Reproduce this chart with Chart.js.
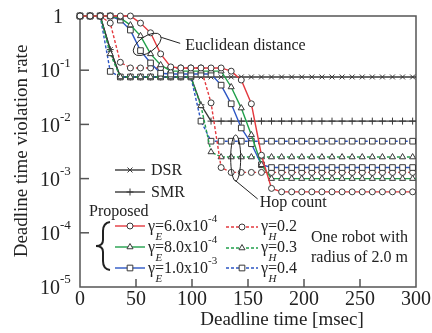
<!DOCTYPE html>
<html>
<head>
<meta charset="utf-8">
<script src="https://cdn.jsdelivr.net/npm/chart.js@4.4.1/dist/chart.umd.min.js"></script>
<style>
  html, body { margin: 0; padding: 0; background: #fff; }
  canvas { display: block; }
</style>
</head>
<body>
<canvas id="rateChart" width="432" height="333"></canvas>
<script>
// deadline time [msec] of each sample (last one sits past the axis end, it only carries the line to the frame)
const times = [0, 9, 18, 27, 36, 45, 54, 63, 72, 81, 90, 99, 108, 117, 126, 135, 144, 153, 162, 171,
  180, 189, 198, 207, 216, 225, 234, 243, 252, 261, 270, 279, 288, 297, 306];

// deadline time violation rate
const dsr = [1, 1, 1, 0.24, 0.075, 0.075, 0.075, 0.075, 0.075, 0.075, 0.075, 0.075, 0.075, 0.075, 0.075,
  0.075, 0.075, 0.075, 0.075, 0.075, 0.075, 0.075, 0.075, 0.075, 0.075, 0.075, 0.075, 0.075, 0.075, 0.075,
  0.075, 0.075, 0.075, 0.075, 0.075];
const smr = [1, 1, 1, 0.24, 0.075, 0.075, 0.075, 0.075, 0.075, 0.075, 0.075, 0.075, 0.023, 0.0115, 0.0115,
  0.0115, 0.0115, 0.0115, 0.0115, 0.0115, 0.0115, 0.0115, 0.0115, 0.0115, 0.0115, 0.0115, 0.0115, 0.0115,
  0.0115, 0.0115, 0.0115, 0.0115, 0.0115, 0.0115, 0.0115];
// Proposed, Euclidean distance
const eucl6 = [1, 1, 1, 1, 1, 1, 0.74, 0.49, 0.2, 0.115, 0.11, 0.11, 0.11, 0.11, 0.11, 0.096, 0.066, 0.024,
  0.0027, 0.00066, 0.00057, 0.00057, 0.00057, 0.00057, 0.00057, 0.00057, 0.00057, 0.00057, 0.00057, 0.00057,
  0.00057, 0.00057, 0.00057, 0.00057, 0.00057];
const eucl8 = [1, 1, 1, 1, 0.92, 0.68, 0.43, 0.2, 0.125, 0.096, 0.096, 0.096, 0.096, 0.096, 0.096, 0.049,
  0.02, 0.0064, 0.0018, 0.001, 0.001, 0.001, 0.001, 0.001, 0.001, 0.001, 0.001, 0.001, 0.001, 0.001, 0.001,
  0.001, 0.001, 0.001, 0.001];
const eucl10 = [1, 1, 1, 1, 0.84, 0.55, 0.23, 0.136, 0.088, 0.085, 0.085, 0.085, 0.085, 0.085, 0.053, 0.024,
  0.0086, 0.0044, 0.0018, 0.0016, 0.0016, 0.0016, 0.0016, 0.0016, 0.0016, 0.0016, 0.0016, 0.0016, 0.0016,
  0.0016, 0.0016, 0.0016, 0.0016, 0.0016, 0.0016];
// Proposed, hop count
const hop02 = [1, 1, 1, 0.74, 0.14, 0.11, 0.11, 0.11, 0.11, 0.11, 0.11, 0.11, 0.11, 0.025, 0.0016, 0.0013,
  0.0013, 0.0013, 0.0013, 0.0013, 0.0013, 0.0013, 0.0013, 0.0013, 0.0013, 0.0013, 0.0013, 0.0013, 0.0013,
  0.0013, 0.0013, 0.0013, 0.0013, 0.0013, 0.0013];
const hop03 = [1, 1, 1, 0.2, 0.075, 0.075, 0.075, 0.075, 0.075, 0.075, 0.075, 0.075, 0.022, 0.0031, 0.0025,
  0.0025, 0.0025, 0.0025, 0.0025, 0.0025, 0.0025, 0.0025, 0.0025, 0.0025, 0.0025, 0.0025, 0.0025, 0.0025,
  0.0025, 0.0025, 0.0025, 0.0025, 0.0025, 0.0025, 0.0025];
const hop04 = [1, 1, 1, 0.095, 0.075, 0.075, 0.075, 0.075, 0.075, 0.075, 0.075, 0.075, 0.0115, 0.0049, 0.0049,
  0.0049, 0.0049, 0.0049, 0.0049, 0.0049, 0.0049, 0.0049, 0.0049, 0.0049, 0.0049, 0.0049, 0.0049, 0.0049,
  0.0049, 0.0049, 0.0049, 0.0049, 0.0049, 0.0049, 0.0049];

const xTicks = [0, 50, 100, 150, 200, 250, 300];
const yTicks = [1, 0.1, 0.01, 0.001, 0.0001, 0.00001];
const yExps = ['', '-1', '-2', '-3', '-4', '-5'];

const red = '#e4393e', green = '#21a04b', blue = '#2c56c4', ink = '#383838';
const serif = '"Liberation Serif", "DejaVu Serif", serif';

function series(name, vals, color, dash, style, r, order) {
  return {
    label: name,
    data: times.map((t, i) => ({ x: t, y: vals[i] })),
    borderColor: color,
    borderWidth: 1.4,
    borderDash: dash,
    pointStyle: style,
    pointRadius: r,
    pointBorderColor: ink,
    pointBackgroundColor: '#fff',
    pointBorderWidth: 1,
    tension: 0,
    order: order,
    clip: { left: 6, top: 6, right: 0, bottom: 6 }
  };
}

// higher order is painted first, so DSR/SMR sit under the proposed curves
const datasets = [
  series('DSR', dsr, ink, [], 'crossRot', 3.5, 3),
  series('SMR', smr, ink, [], 'cross', 3.5, 3),
  series('E6', eucl6, red, [], 'circle', 3, 1),
  series('E8', eucl8, green, [], 'triangle', 3.5, 1),
  series('E10', eucl10, blue, [], 'rect', 4, 1),
  series('H02', hop02, red, [3, 2], 'circle', 3, 2),
  series('H03', hop03, green, [3, 2], 'triangle', 3.5, 2),
  series('H04', hop04, blue, [3, 2], 'rect', 4, 2)
];

function marker(ctx, ds, x, y) {
  ctx.save();
  ctx.setLineDash([]);
  ctx.fillStyle = '#fff';
  ctx.strokeStyle = ink;
  ctx.lineWidth = 1;
  Chart.helpers.drawPoint(ctx, { pointStyle: ds.pointStyle, radius: ds.pointRadius, rotation: 0, borderWidth: 1 }, x, y);
  ctx.restore();
}

function legendLine(ctx, ds, x1, x2, y) {
  ctx.save();
  ctx.strokeStyle = ds.borderColor;
  ctx.lineWidth = 1.4;
  ctx.setLineDash(ds.borderDash);
  ctx.beginPath();
  ctx.moveTo(x1, y);
  ctx.lineTo(x2, y);
  ctx.stroke();
  ctx.restore();
  marker(ctx, ds, (x1 + x2) / 2, y);
}

function gammaLabel(ctx, x, y, sub, val, exp) {
  ctx.font = '16px ' + serif;
  ctx.textAlign = 'left';
  ctx.textBaseline = 'middle';
  ctx.fillText('γ', x, y);
  const gw = ctx.measureText('γ').width;
  ctx.fillText('=' + val, x + gw, y);
  const vw = ctx.measureText('=' + val).width;
  ctx.font = 'italic 11px ' + serif;
  ctx.fillText(sub, x + gw + 0.5, y + 10);
  if (exp) {
    ctx.font = '11px ' + serif;
    ctx.fillText(exp, x + gw + vw, y - 8);
  }
}

const decor = {
  id: 'decor',
  beforeDatasetsDraw(chart) {
    const { ctx, chartArea: a } = chart;
    ctx.save();
    ctx.strokeStyle = '#555';
    ctx.lineWidth = 1.5;
    ctx.strokeRect(a.left, a.top, a.right - a.left, a.bottom - a.top);
    ctx.restore();
  },
  afterDraw(chart) {
    const { ctx, chartArea: a } = chart;
    const xs = chart.scales.x, ys = chart.scales.y;
    ctx.save();
    ctx.strokeStyle = '#555';
    ctx.lineWidth = 1.5;
    // inward tick marks
    xTicks.slice(1, -1).forEach(v => {
      const px = xs.getPixelForValue(v);
      ctx.beginPath(); ctx.moveTo(px, a.bottom); ctx.lineTo(px, a.bottom - 8); ctx.stroke();
    });
    yTicks.slice(1, -1).forEach(v => {
      const py = ys.getPixelForValue(v);
      ctx.beginPath(); ctx.moveTo(a.left, py); ctx.lineTo(a.left + 9, py); ctx.stroke();
    });

    ctx.fillStyle = '#222';
    ctx.textBaseline = 'middle';
    ctx.font = '20px ' + serif;
    ctx.textAlign = 'center';
    xTicks.forEach(v => ctx.fillText(String(v), xs.getPixelForValue(v), a.bottom + 13));
    yTicks.forEach((v, i) => {
      const py = ys.getPixelForValue(v);
      ctx.font = '20px ' + serif;
      ctx.textAlign = 'right';
      if (!yExps[i]) { ctx.fillText('1', a.left - 17, py + 2); return; }
      ctx.fillText('10', a.left - 20, py + 2);
      ctx.font = '13px ' + serif;
      ctx.textAlign = 'left';
      ctx.fillText(yExps[i], a.left - 20, py - 7);
    });

    // axis titles
    ctx.font = '19px ' + serif;
    ctx.textAlign = 'center';
    ctx.fillText('Deadline time [msec]', 282, 320);
    ctx.save();
    ctx.translate(22, 151);
    ctx.rotate(-Math.PI / 2);
    ctx.fillText('Deadline time violation rate', 0, 0);
    ctx.restore();

    // annotations
    ctx.strokeStyle = '#222';
    ctx.lineWidth = 1;
    const ex = xs.getPixelForValue(60), ey = ys.getPixelForValue(0.30);
    ctx.beginPath(); ctx.ellipse(ex, ey, 16, 8, -0.6, 0, Math.PI * 2); ctx.stroke();
    ctx.beginPath(); ctx.moveTo(ex + 14, ey - 7); ctx.lineTo(ex + 33, ey - 1); ctx.stroke();
    ctx.font = '16px ' + serif;
    ctx.textAlign = 'left';
    ctx.fillText('Euclidean distance', ex + 38, ey + 1);

    const hx = xs.getPixelForValue(139), hy = ys.getPixelForValue(0.0024);
    ctx.beginPath(); ctx.ellipse(hx, hy, 5, 23, 0, 0, Math.PI * 2); ctx.stroke();
    ctx.beginPath(); ctx.moveTo(hx - 1, hy + 22); ctx.lineTo(hx + 22, hy + 41); ctx.stroke();
    ctx.fillText('Hop count', hx + 24, hy + 45);

    // legend
    const ds = chart.data.datasets;
    legendLine(ctx, ds[0], 115, 145, 170);
    legendLine(ctx, ds[1], 115, 145, 192);
    ctx.fillStyle = '#222';
    ctx.font = '16px ' + serif;
    ctx.textAlign = 'left';
    ctx.fillText('DSR', 151, 171);
    ctx.fillText('SMR', 151, 193);
    ctx.fillText('Proposed', 89, 212);

    ctx.lineWidth = 2;
    ctx.beginPath();
    ctx.moveTo(110, 222);
    ctx.quadraticCurveTo(103, 223, 103, 231);
    ctx.lineTo(103, 240);
    ctx.quadraticCurveTo(103, 246, 96, 246);
    ctx.quadraticCurveTo(103, 246, 103, 252);
    ctx.lineTo(103, 261);
    ctx.quadraticCurveTo(103, 269, 110, 270);
    ctx.stroke();

    legendLine(ctx, ds[2], 115, 145, 226);
    legendLine(ctx, ds[3], 115, 145, 247);
    legendLine(ctx, ds[4], 115, 145, 268);
    legendLine(ctx, ds[5], 226, 258, 227);
    legendLine(ctx, ds[6], 226, 258, 248);
    legendLine(ctx, ds[7], 226, 258, 268);
    ctx.fillStyle = '#222';
    gammaLabel(ctx, 148, 227, 'E', '6.0x10', '-4');
    gammaLabel(ctx, 148, 248, 'E', '8.0x10', '-4');
    gammaLabel(ctx, 148, 269, 'E', '1.0x10', '-3');
    gammaLabel(ctx, 261, 227, 'H', '0.2');
    gammaLabel(ctx, 261, 248, 'H', '0.3');
    gammaLabel(ctx, 261, 269, 'H', '0.4');

    ctx.font = '16px ' + serif;
    ctx.textAlign = 'left';
    ctx.fillText('One robot with', 311, 238);
    ctx.fillText('radius of 2.0 m', 311, 258);
    ctx.restore();
  }
};

new Chart('rateChart', {
  type: 'line',
  data: { datasets: datasets },
  options: {
    responsive: false,
    animation: false,
    devicePixelRatio: 1,
    layout: { padding: { left: 80, top: 16, right: 16, bottom: 46 } },
    plugins: { legend: { display: false }, tooltip: { enabled: false } },
    scales: {
      x: { type: 'linear', min: 0, max: 300, display: false },
      y: { type: 'logarithmic', min: 0.00001, max: 1, display: false }
    }
  },
  plugins: [decor]
});
</script>
</body>
</html>
